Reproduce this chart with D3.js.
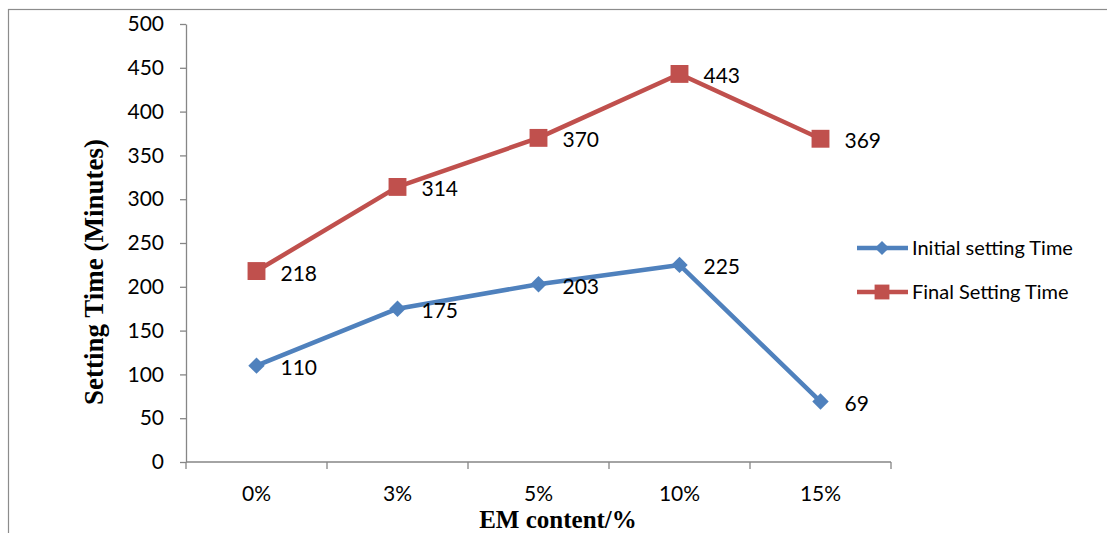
<!DOCTYPE html>
<html>
<head>
<meta charset="utf-8">
<script src="https://cdn.jsdelivr.net/npm/d3@7"></script>
<style>
  html, body { margin: 0; padding: 0; background: #fff; }
  svg { display: block; }
</style>
</head>
<body>
<svg id="chart" width="1107" height="533"></svg>
<script>
// EM content categories and setting times (minutes)
const categories = ["0%", "3%", "5%", "10%", "15%"];
const initialSetting = [110, 175, 203, 225, 69];
const finalSetting = [218, 314, 370, 443, 369];
const yTicks = [0, 50, 100, 150, 200, 250, 300, 350, 400, 450, 500];
const seriesNames = ["Initial setting Time", "Final Setting Time"];

const svg = d3.select("#chart");
const W = 1107, H = 533;
const axisColor = "#868686";
const font = "Lato, 'Open Sans', sans-serif";
const serif = "'Liberation Serif', 'DejaVu Serif', serif";
const blue = "#4F81BD", red = "#C0504D";

// outer frame (continues past the right and bottom edges)
svg.append("rect")
  .attr("x", 8.5).attr("y", 9.5)
  .attr("width", W + 20).attr("height", H + 20)
  .attr("fill", "none").attr("stroke", "#8c8c8c").attr("stroke-width", 1.2);

const plotLeft = 186, plotRight = 891, plotTop = 24, plotBottom = 462;
const x = d3.scaleBand().domain(categories).range([plotLeft, plotRight]).padding(0);
const y = d3.scaleLinear().domain([0, 500]).range([plotBottom, plotTop]);
const cx = d => x(d) + x.bandwidth() / 2;

// y axis
const yAxis = svg.append("g").attr("transform", `translate(${plotLeft},0)`)
  .call(d3.axisLeft(y).tickValues(yTicks).tickSize(6).tickPadding(16).tickSizeOuter(0));
yAxis.select(".domain").attr("stroke", axisColor).attr("stroke-width", 1.3);
yAxis.selectAll(".tick line").attr("stroke", axisColor).attr("stroke-width", 1.3);
yAxis.selectAll(".tick text").attr("font-family", font).attr("font-size", 21).attr("fill", "#000");

// x axis with ticks on category boundaries
const xAxisG = svg.append("g").attr("transform", `translate(0,${plotBottom})`);
xAxisG.append("line").attr("x1", plotLeft).attr("x2", plotRight).attr("y1", 0).attr("y2", 0)
  .attr("stroke", axisColor).attr("stroke-width", 1.3);
const boundaries = categories.map(c => x(c)).concat([x(categories[categories.length - 1]) + x.bandwidth()]);
xAxisG.selectAll("line.tk").data(boundaries).join("line").attr("class", "tk")
  .attr("x1", d => d).attr("x2", d => d).attr("y1", 0).attr("y2", 7)
  .attr("stroke", axisColor).attr("stroke-width", 1.3);
xAxisG.selectAll("text").data(categories).join("text")
  .attr("x", d => cx(d)).attr("y", 39)
  .attr("text-anchor", "middle")
  .attr("font-family", font).attr("font-size", 21).attr("fill", "#000")
  .text(d => d);

// axis titles
svg.append("text")
  .attr("transform", `translate(103,272) rotate(-90)`)
  .attr("text-anchor", "middle")
  .attr("font-family", serif)
  .attr("font-weight", "bold").attr("font-size", 27)
  .text("Setting Time (Minutes)");
svg.append("text")
  .attr("x", 558).attr("y", 528)
  .attr("text-anchor", "middle")
  .attr("font-family", serif)
  .attr("font-weight", "bold").attr("font-size", 25)
  .text("EM content/%");

const line = d3.line().x((d, i) => cx(categories[i])).y(d => y(d));

function drawSeries(vals, color, marker) {
  const g = svg.append("g");
  g.append("path").datum(vals).attr("d", line)
    .attr("fill", "none").attr("stroke", color).attr("stroke-width", 4.5)
    .attr("stroke-linejoin", "round");
  const sym = marker === "diamond"
    ? d3.symbol().type(d3.symbolSquare).size(135)
    : d3.symbol().type(d3.symbolSquare).size(320);
  g.selectAll("path.m").data(vals).join("path").attr("class", "m")
    .attr("d", sym)
    .attr("transform", (d, i) => `translate(${cx(categories[i])},${y(d)})` + (marker === "diamond" ? " rotate(45)" : ""))
    .attr("fill", color);
  g.selectAll("text").data(vals).join("text")
    .attr("x", (d, i) => cx(categories[i]) + 24)
    .attr("y", d => y(d) + 9.5)
    .attr("font-family", font).attr("font-size", 21).attr("fill", "#000")
    .text(d => d);
}
drawSeries(initialSetting, blue, "diamond");
drawSeries(finalSetting, red, "square");

// legend
const legend = svg.append("g");
const legendItems = [
  { name: seriesNames[0], color: blue, marker: "diamond", y: 248 },
  { name: seriesNames[1], color: red, marker: "square", y: 292 }
];
legendItems.forEach(it => {
  legend.append("line").attr("x1", 857).attr("x2", 908).attr("y1", it.y).attr("y2", it.y)
    .attr("stroke", it.color).attr("stroke-width", 4.5);
  legend.append("path")
    .attr("d", d3.symbol().type(d3.symbolSquare).size(it.marker === "diamond" ? 100 : 220)())
    .attr("transform", `translate(882,${it.y})` + (it.marker === "diamond" ? " rotate(45)" : ""))
    .attr("fill", it.color);
  legend.append("text").attr("x", 912).attr("y", it.y + 7)
    .attr("font-family", font).attr("font-size", 20).attr("fill", "#000")
    .text(it.name);
});
</script>
</body>
</html>
